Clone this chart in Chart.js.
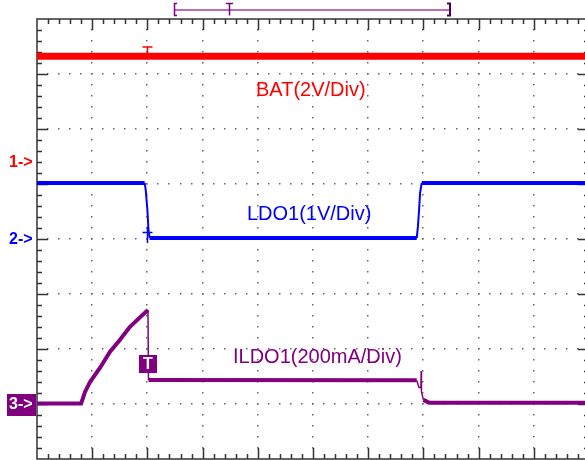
<!DOCTYPE html>
<html>
<head>
<meta charset="utf-8">
<script src="https://cdn.jsdelivr.net/npm/chart.js@4.4.1/dist/chart.umd.min.js"></script>
<style>
  html, body { margin: 0; padding: 0; background: #fff; overflow: hidden; }
  #wrap { width: 600px; height: 460px; }
</style>
</head>
<body>
<div id="wrap"><canvas id="scope" width="600" height="460"></canvas></div>
<script>
// ===== CAPTURE DATA =====
// time is in horizontal divisions (10 across the screen, trigger at 2 div)
const batTime = [0, 10];
const batVolts = [3.85, 3.85];

const ldoTime  = [0, 1.95, 1.97, 2.0, 2.02, 2.04, 6.88, 6.90, 6.92, 6.94, 6.97, 10];
const ldoVolts = [1.02, 1.02, 0.89, 0.53, 0.16, 0.02, 0.02, 0.22, 0.50, 0.84, 1.02, 1.02];

const ildoTime = [0, 0.80, 0.87, 0.96, 1.14, 1.32, 1.50, 1.68, 1.87, 2.01, 2.02,
                  6.88, 6.92, 6.955, 6.96, 6.965, 7.0, 7.1, 10];
const ildoMilliamps = [2, 2, 44, 80, 131, 189, 233, 280, 316, 342, 87,
                       86, 60, 60, 120, 45, 15, 5, 5];

// channel settings: ground marker position (div from bottom) and units per div
const chanNames  = ['BAT(2V/Div)', 'LDO1(1V/Div)', 'ILDO1(200mA/Div)'];
const chanRefDiv = [5.4, 4, 1];
const chanPerDiv = [2, 1, 200];

const X_DIVS = 10;
const Y_DIVS = 8;
const MINOR = 5;

const RED = '#ff0000';
const BLUE = '#0000ff';
const PURPLE = '#800080';
const FONT = '"Liberation Sans", Arial, sans-serif';

function toPoints(xs, ys) {
  return xs.map((x, i) => ({ x: x, y: ys[i] }));
}

function chanScale(i) {
  return {
    type: 'linear',
    display: false,
    min: -chanRefDiv[i] * chanPerDiv[i],
    max: (Y_DIVS - chanRefDiv[i]) * chanPerDiv[i]
  };
}

// thin line on the fast edges, thick on the flat parts
function edgeWidth(thick, thin) {
  return ctx => Math.abs(ctx.p1.x - ctx.p0.x) < 3 ? thin : thick;
}

// ===== GRATICULE =====
const graticule = {
  id: 'graticule',
  beforeDatasetsDraw(chart) {
    const { ctx, chartArea: a, scales } = chart;
    const x = scales.x, y = scales.yGrid;
    ctx.save();

    // dotted division lines
    ctx.fillStyle = '#666';
    for (let i = 1; i < X_DIVS; i++) {
      const px = Math.round(x.getPixelForValue(i));
      for (let k = 1; k < Y_DIVS * MINOR; k++) {
        const py = Math.round(y.getPixelForValue(k / MINOR));
        ctx.fillRect(px - 1, py - 1, 1.5, 1.5);
      }
    }
    for (let j = 1; j < Y_DIVS; j++) {
      const py = Math.round(y.getPixelForValue(j));
      for (let k = 1; k < X_DIVS * MINOR; k++) {
        const px = Math.round(x.getPixelForValue(k / MINOR));
        ctx.fillRect(px - 1, py - 1, 1.5, 1.5);
      }
    }

    // frame
    ctx.strokeStyle = '#333';
    ctx.lineWidth = 1.5;
    ctx.strokeRect(a.left, a.top, a.right - a.left, a.bottom - a.top);

    // minor / major ticks along the frame
    ctx.beginPath();
    for (let k = 1; k < X_DIVS * MINOR; k++) {
      const px = Math.round(x.getPixelForValue(k / MINOR)) + 0.5;
      const len = k % MINOR === 0 ? 11 : 5;
      ctx.moveTo(px, a.top); ctx.lineTo(px, a.top + len);
      ctx.moveTo(px, a.bottom); ctx.lineTo(px, a.bottom - len);
    }
    for (let k = 1; k < Y_DIVS * MINOR; k++) {
      const py = Math.round(y.getPixelForValue(k / MINOR)) + 0.5;
      const len = k % MINOR === 0 ? 11 : 5;
      ctx.moveTo(a.left, py); ctx.lineTo(a.left + len, py);
      ctx.moveTo(a.right, py); ctx.lineTo(a.right - len, py);
    }
    ctx.stroke();
    ctx.restore();
  },

  afterDatasetsDraw(chart) {
    const { ctx, scales } = chart;
    const x = scales.x, y = scales.yGrid;
    const trigX = Math.round(x.getPixelForValue(2)) + 0.5;
    ctx.save();

    // channel titles
    ctx.font = '20px ' + FONT;
    ctx.textAlign = 'center';
    ctx.textBaseline = 'alphabetic';
    ctx.fillStyle = RED;
    ctx.fillText(chanNames[0], x.getPixelForValue(4.96), y.getPixelForValue(6.6));
    ctx.fillStyle = BLUE;
    ctx.fillText(chanNames[1], x.getPixelForValue(4.93), y.getPixelForValue(4.345));
    ctx.fillStyle = PURPLE;
    ctx.fillText(chanNames[2], x.getPixelForValue(5.08), y.getPixelForValue(1.745));

    // ground markers on the left
    const g1 = scales.yBat.getPixelForValue(0);
    const g2 = scales.yLdo.getPixelForValue(0);
    const g3 = scales.yIldo.getPixelForValue(0);
    ctx.font = 'bold 16px ' + FONT;
    ctx.textAlign = 'left';
    ctx.textBaseline = 'middle';
    ctx.fillStyle = RED;
    ctx.fillText('1->', 9, g1 + 1);
    ctx.fillStyle = BLUE;
    ctx.fillText('2->', 9, g2 + 1);
    ctx.fillStyle = PURPLE;
    ctx.fillRect(7, g3 - 10, 29, 22);
    ctx.fillStyle = '#fff';
    ctx.fillText('3->', 9, g3 + 1);

    // trigger marks
    ctx.lineWidth = 1.5;
    ctx.strokeStyle = RED;
    ctx.beginPath();
    ctx.moveTo(trigX - 5, 47); ctx.lineTo(trigX + 5, 47);
    ctx.moveTo(trigX, 47); ctx.lineTo(trigX, 53);
    ctx.stroke();

    ctx.strokeStyle = BLUE;
    ctx.beginPath();
    ctx.moveTo(trigX - 5, 232.5); ctx.lineTo(trigX + 5, 232.5);
    ctx.moveTo(trigX, 227); ctx.lineTo(trigX, 243);
    ctx.stroke();

    ctx.fillStyle = PURPLE;
    ctx.fillRect(trigX - 8.5, 355, 18, 18);
    ctx.fillStyle = '#fff';
    ctx.font = 'bold 16px ' + FONT;
    ctx.textAlign = 'center';
    ctx.fillText('T', trigX + 0.5, 365);

    // record position bar at the top
    ctx.strokeStyle = '#a040a0';
    ctx.lineWidth = 1.5;
    ctx.beginPath();
    ctx.moveTo(174, 10); ctx.lineTo(450, 10);
    ctx.stroke();
    ctx.strokeStyle = PURPLE;
    ctx.beginPath();
    ctx.moveTo(177, 3.5); ctx.lineTo(174.5, 3.5); ctx.lineTo(174.5, 15.5); ctx.lineTo(177, 15.5);
    ctx.moveTo(226, 3.5); ctx.lineTo(233, 3.5);
    ctx.moveTo(229.5, 3.5); ctx.lineTo(229.5, 15.5);
    ctx.stroke();
    ctx.strokeStyle = '#4a004a';
    ctx.lineWidth = 2;
    ctx.beginPath();
    ctx.moveTo(447, 3.5); ctx.lineTo(450, 3.5); ctx.lineTo(450, 15.5); ctx.lineTo(447, 15.5);
    ctx.stroke();

    ctx.restore();
  }
};

// ===== CHART =====
new Chart(document.getElementById('scope').getContext('2d'), {
  type: 'line',
  data: {
    datasets: [
      {
        label: 'ILDO1',
        data: toPoints(ildoTime, ildoMilliamps),
        yAxisID: 'yIldo',
        borderColor: PURPLE,
        borderWidth: 4,
        segment: { borderWidth: edgeWidth(4, 1.5) }
      },
      {
        label: 'LDO1',
        data: toPoints(ldoTime, ldoVolts),
        yAxisID: 'yLdo',
        borderColor: BLUE,
        borderWidth: 4,
        segment: { borderWidth: edgeWidth(4, 2) }
      },
      {
        label: 'BAT',
        data: toPoints(batTime, batVolts),
        yAxisID: 'yBat',
        borderColor: RED,
        borderWidth: 7
      }
    ]
  },
  options: {
    responsive: false,
    animation: false,
    layout: { padding: { left: 37, top: 19, right: 11, bottom: 1 } },
    elements: {
      point: { radius: 0 },
      line: { tension: 0, borderCapStyle: 'butt', borderJoinStyle: 'miter' }
    },
    plugins: {
      legend: { display: false },
      tooltip: { enabled: false }
    },
    scales: {
      x: { type: 'linear', display: false, min: 0, max: X_DIVS },
      yGrid: { type: 'linear', display: false, min: 0, max: Y_DIVS },
      yBat: chanScale(0),
      yLdo: chanScale(1),
      yIldo: chanScale(2)
    }
  },
  plugins: [graticule]
});
</script>
</body>
</html>
